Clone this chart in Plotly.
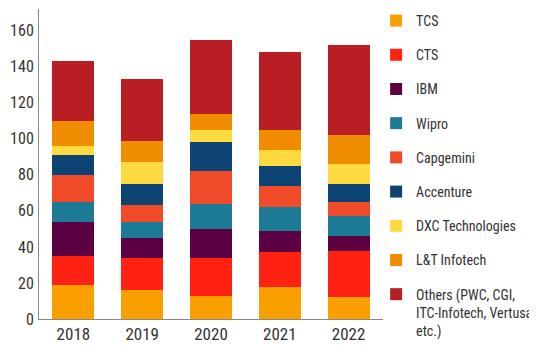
import plotly.graph_objects as go

years = ["2018", "2019", "2020", "2021", "2022"]
series_names = ["TCS", "CTS", "IBM", "Wipro", "Capgemini", "Accenture",
                "DXC Technologies", "L&T Infotech",
                "Others (PWC, CGI,<br>ITC-Infotech, Vertusa,<br>etc.)"]
tcs = [19, 16, 13, 18, 12]
cts = [16, 18, 21, 19, 26]
ibm = [19, 11, 16, 12, 8]
wipro = [11, 9, 14, 13, 11]
capgemini = [15, 9, 18, 12, 8]
accenture = [11, 12, 16, 11, 10]
dxc = [5, 12, 7, 9, 11]
lt_infotech = [14, 12, 9, 11, 16]
others = [33, 34, 41, 43, 50]
y_ticks = [0, 20, 40, 60, 80, 100, 120, 140, 160]

values = [tcs, cts, ibm, wipro, capgemini, accenture, dxc, lt_infotech, others]
colors = ["#F9A000", "#FF2213", "#5C0043", "#1E7B98", "#F04A28",
          "#0D4473", "#FFD940", "#F08C00", "#B81F24"]

fig = go.Figure()
for name, vals, col in zip(series_names, values, colors):
    fig.add_trace(go.Bar(x=years, y=vals, name=name, marker_color=col,
                         marker_line_width=0, legendgroup=name))

font_family = "Roboto Condensed, Roboto, sans-serif"
fig.update_layout(
    barmode="stack",
    bargap=0.39,
    width=529, height=347,
    margin=dict(l=31, r=154, t=1, b=36, autoexpand=False),
    paper_bgcolor="white", plot_bgcolor="white",
    font=dict(family=font_family, color="#333333"),
    showlegend=True,
    legend=dict(
        x=0.98, xanchor="left", y=1.013, yanchor="top",
        traceorder="grouped", tracegroupgap=13,
        valign="top", maxheight=420,
        font=dict(size=14, family=font_family, color="#333333"),
        itemwidth=30,
        bgcolor="rgba(0,0,0,0)",
    ),
    xaxis=dict(
        showline=True, linecolor="#888888", linewidth=1,
        showgrid=False, ticks="", automargin=False,
        tickfont=dict(size=17, family=font_family, color="#333333"),
    ),
    yaxis=dict(
        range=[0, 172], tickvals=y_ticks,
        showline=True, linecolor="#888888", linewidth=1,
        showgrid=False, zeroline=False, ticks="", automargin=False,
        ticklabelstandoff=1,
        tickfont=dict(size=16, family=font_family, color="#333333"),
    ),
)

fig.write_html("out.html")
